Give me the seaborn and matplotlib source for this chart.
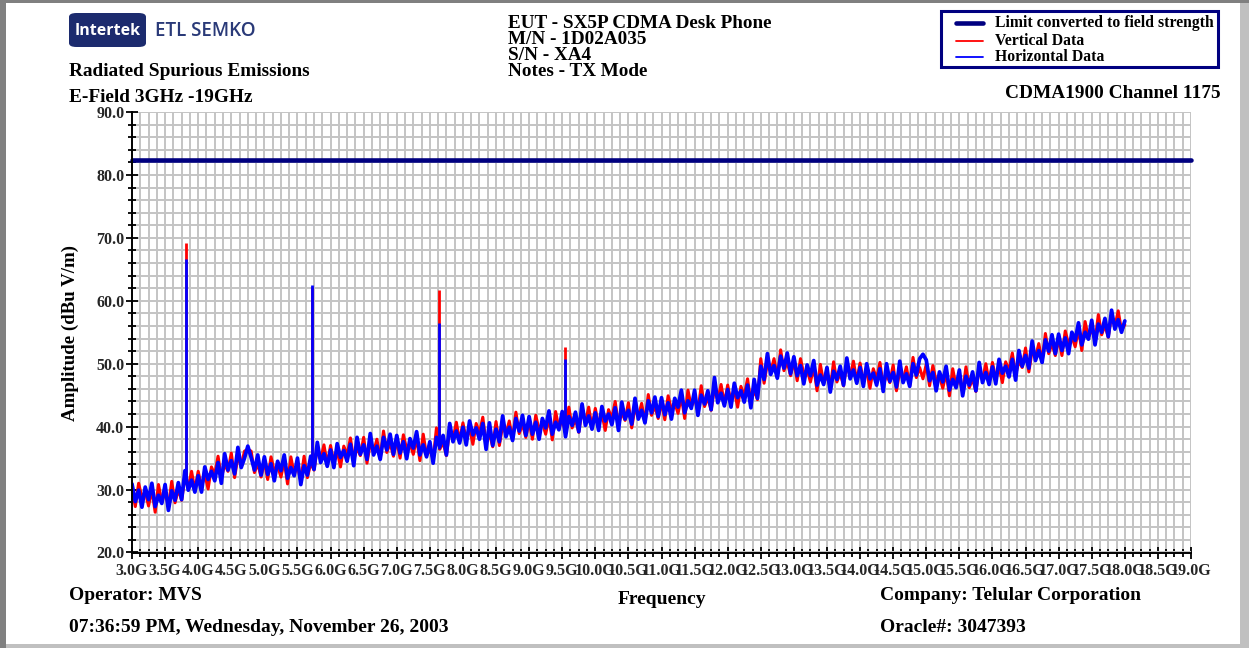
import numpy as np
import pandas as pd
import seaborn as sns
import matplotlib
matplotlib.use("Agg")
import matplotlib.pyplot as plt
from matplotlib.lines import Line2D
from matplotlib.patches import Rectangle, FancyBboxPatch
from matplotlib.ticker import MultipleLocator, FuncFormatter

# ---------------- data ----------------
# sweep 3.0 .. 18.0 GHz, samples every 0.05 GHz (one row = 1 GHz)
horizontal_data = [
    30.9, 28.1, 29.9, 27.2, 30.4, 28.4, 31.0, 27.3, 29.1, 27.8, 30.8, 26.7, 29.8, 28.3, 31.1, 28.4, 33.0, 29.9, 31.5, 29.6,
    32.2, 29.6, 33.6, 31.6, 32.9, 31.4, 34.3, 31.0, 35.7, 33.1, 34.6, 32.5, 36.7, 33.5, 35.0, 36.9, 35.1, 33.1, 35.5, 32.3,
    35.2, 32.4, 34.1, 31.4, 34.5, 33.0, 35.5, 31.8, 33.5, 32.2, 35.0, 30.8, 33.8, 32.3, 35.3, 33.2, 37.5, 34.3, 35.7, 33.7,
    36.3, 33.5, 37.3, 35.1, 36.2, 34.5, 37.2, 33.8, 38.3, 35.6, 37.1, 34.8, 38.9, 35.5, 36.9, 34.8, 38.3, 36.3, 38.8, 35.6,
    38.6, 35.8, 37.6, 34.9, 38.1, 36.6, 39.2, 35.5, 37.1, 35.2, 37.6, 34.2, 38.3, 36.8, 38.6, 35.5, 40.5, 37.6, 39.3, 37.4,
    39.9, 37.1, 40.9, 38.7, 39.8, 38.0, 40.5, 36.4, 40.6, 37.0, 39.6, 37.6, 41.7, 38.4, 39.9, 37.8, 41.3, 39.3, 41.8, 38.6,
    41.6, 38.8, 40.7, 38.0, 41.3, 39.8, 42.5, 38.8, 40.7, 39.5, 42.4, 38.4, 41.6, 40.2, 42.3, 39.2, 43.6, 40.2, 41.7, 39.6,
    42.2, 39.4, 43.2, 40.9, 42.0, 40.3, 43.0, 39.4, 43.9, 41.2, 42.6, 40.4, 44.5, 41.2, 42.6, 40.6, 44.1, 42.2, 44.7, 41.6,
    44.6, 41.9, 43.8, 41.2, 44.5, 43.1, 45.8, 42.2, 44.1, 42.9, 45.8, 41.8, 45.0, 43.6, 45.7, 42.7, 47.8, 43.8, 45.3, 43.3,
    45.9, 43.1, 46.9, 44.6, 45.7, 43.9, 46.6, 43.0, 47.5, 44.5, 49.6, 47.5, 51.6, 48.3, 49.7, 47.7, 51.2, 49.3, 51.7, 48.4,
    51.1, 48.1, 49.7, 46.8, 49.8, 48.1, 50.5, 46.6, 48.2, 46.7, 49.4, 45.5, 48.8, 47.5, 49.6, 46.6, 50.9, 47.6, 49.0, 46.9,
    49.4, 46.4, 50.0, 47.6, 48.5, 46.6, 49.2, 45.6, 50.0, 47.2, 48.6, 46.3, 50.4, 47.0, 48.4, 46.4, 50.0, 48.2, 50.8, 51.5,
    50.6, 47.3, 48.6, 45.7, 48.7, 47.1, 49.6, 45.8, 47.5, 46.2, 49.0, 44.9, 48.0, 46.6, 48.7, 45.7, 50.2, 47.0, 48.6, 46.7,
    49.5, 46.8, 50.7, 48.5, 49.6, 47.9, 50.7, 47.4, 52.1, 49.6, 51.3, 49.3, 53.6, 50.5, 52.1, 50.2, 53.8, 52.0, 54.6, 51.6,
    54.7, 52.1, 54.1, 51.6, 55.0, 53.7, 56.5, 53.0, 55.0, 53.9, 56.9, 53.0, 56.3, 55.0, 57.2, 54.3, 58.5, 55.5, 57.0, 55.0,
    56.8,
]

vertical_data = [
    30.2, 27.3, 31.0, 28.7, 29.7, 27.4, 30.0, 26.4, 30.8, 28.0, 29.6, 27.3, 31.3, 27.9, 30.0, 28.3, 32.0, 30.3, 32.9, 29.9,
    32.9, 30.4, 32.5, 30.1, 33.6, 32.4, 35.3, 31.9, 34.0, 32.9, 35.8, 31.9, 35.2, 33.9, 36.1, 36.4, 36.1, 32.7, 34.1, 32.0,
    34.5, 31.6, 35.2, 32.9, 33.8, 32.0, 34.5, 30.9, 35.2, 32.4, 33.8, 31.4, 35.3, 31.9, 34.2, 33.1, 36.6, 34.7, 37.1, 34.0,
    37.0, 34.3, 36.2, 33.6, 36.9, 35.5, 38.2, 34.7, 36.6, 35.4, 38.3, 34.2, 37.4, 35.9, 38.0, 34.9, 39.3, 35.9, 37.4, 35.3,
    37.9, 35.0, 38.7, 36.4, 37.4, 35.6, 38.2, 34.6, 38.8, 35.4, 36.4, 34.8, 39.8, 36.4, 37.5, 35.4, 39.5, 38.0, 40.7, 37.7,
    40.6, 37.9, 39.8, 37.2, 40.5, 39.0, 41.5, 37.3, 38.9, 36.8, 40.8, 37.0, 40.2, 38.8, 40.9, 37.9, 42.3, 38.9, 40.4, 38.3,
    40.9, 38.0, 41.8, 39.5, 40.6, 38.8, 41.5, 37.9, 42.4, 39.7, 41.2, 39.0, 43.1, 39.8, 41.2, 39.1, 42.6, 40.6, 43.1, 39.9,
    42.9, 40.2, 42.1, 39.4, 42.7, 41.3, 44.0, 40.3, 42.2, 41.0, 43.8, 39.8, 43.0, 41.6, 43.7, 40.7, 45.1, 41.8, 43.3, 41.3,
    43.9, 41.1, 44.9, 42.7, 43.8, 42.1, 44.8, 41.3, 45.8, 43.1, 44.6, 42.4, 46.5, 43.2, 44.6, 42.6, 46.1, 44.2, 46.7, 43.6,
    46.6, 43.9, 45.8, 43.1, 46.4, 44.9, 47.6, 43.9, 45.8, 44.3, 50.8, 46.9, 50.1, 48.7, 50.8, 47.8, 52.2, 48.9, 50.3, 48.1,
    50.4, 47.3, 50.8, 48.3, 49.1, 47.1, 49.5, 45.7, 49.9, 46.9, 48.2, 46.1, 50.3, 47.1, 48.5, 46.5, 49.9, 48.0, 50.4, 47.2,
    50.1, 47.2, 48.9, 46.1, 49.2, 47.6, 50.2, 46.5, 48.3, 47.0, 49.8, 45.7, 48.9, 47.4, 49.5, 46.5, 51.0, 47.8, 49.4, 47.6,
    49.9, 46.5, 49.7, 47.2, 48.0, 46.1, 48.6, 44.9, 49.2, 46.4, 47.8, 45.5, 49.5, 46.2, 47.6, 45.6, 49.2, 47.4, 50.0, 47.0,
    50.2, 47.6, 49.6, 47.0, 50.3, 48.9, 51.7, 48.3, 50.4, 49.4, 52.5, 48.7, 52.1, 50.9, 53.2, 50.3, 54.8, 51.6, 53.2, 51.3,
    54.0, 51.3, 55.2, 53.1, 54.3, 52.7, 55.5, 52.1, 56.7, 54.1, 55.7, 53.6, 57.8, 54.6, 56.1, 54.2, 57.8, 55.9, 58.4, 55.3,
    56.2,
]

sweep_start_ghz = 3.0
sweep_stop_ghz = 18.0

# harmonic spikes of the TX carrier
spike_freq = [3.8175, 5.726, 7.635, 9.544]
spike_base = [31.0, 34.5, 36.5, 40.6]
spike_vertical = [69.2, 62.2, 61.7, 52.7]
spike_horizontal = [66.6, 62.5, 56.4, 50.7]

limit_freq = [3.0, 19.0]
limit_value = [82.3, 82.3]

series_names = ["Limit converted to field strength", "Vertical Data", "Horizontal Data"]

# ---------------- styling ----------------
sns.set_theme(style="white")
plt.rcParams["font.family"] = ["Liberation Serif", "DejaVu Serif"]
plt.rcParams["font.weight"] = "bold"

W, H = 1249, 648
fig = plt.figure(figsize=(W / 100, H / 100), dpi=100)
fig.patch.set_facecolor("white")

def fx(x):
    return x / W

def fy(y):
    return 1 - y / H

ax_l, ax_r, ax_t, ax_b = 132, 1191, 112, 552.5
ax = fig.add_axes([fx(ax_l), fy(ax_b), (ax_r - ax_l) / W, (ax_b - ax_t) / H])
ax.set_facecolor("white")

NAVY = "#000080"
RED = "#ff0000"
BLUE = "#0000ff"
series_colors = [NAVY, RED, BLUE]
series_lw = [3.3, 1.3, 1.3]

df_v = pd.DataFrame({"freq": np.linspace(sweep_start_ghz, sweep_stop_ghz, len(vertical_data)),
                     "amp": vertical_data})
df_h = pd.DataFrame({"freq": np.linspace(sweep_start_ghz, sweep_stop_ghz, len(horizontal_data)),
                     "amp": horizontal_data})
df_lim = pd.DataFrame({"freq": limit_freq, "amp": limit_value})

sns.lineplot(data=df_lim, x="freq", y="amp", color=NAVY, lw=3.3, ax=ax,
             sort=False, estimator=None, zorder=3, clip_on=False)
sns.lineplot(data=df_v, x="freq", y="amp", color=RED, lw=2.2, ax=ax,
             sort=False, estimator=None, zorder=4)
ax.vlines(spike_freq, spike_base, spike_vertical, color=RED, lw=2.0, zorder=4)
sns.lineplot(data=df_h, x="freq", y="amp", color=BLUE, lw=2.7, ax=ax,
             sort=False, estimator=None, zorder=5)
ax.vlines(spike_freq, spike_base, spike_horizontal, color=BLUE, lw=2.0, zorder=5)

ax.set_xlim(3.0, 19.0)
ax.set_ylim(20.0, 90.0)
ax.xaxis.set_major_locator(MultipleLocator(0.5))
ax.xaxis.set_minor_locator(MultipleLocator(0.125))
ax.yaxis.set_major_locator(MultipleLocator(10))
ax.yaxis.set_minor_locator(MultipleLocator(2))
ax.xaxis.set_major_formatter(FuncFormatter(lambda v, p: f"{v:.1f}G"))
ax.yaxis.set_major_formatter(FuncFormatter(lambda v, p: f"{v:.1f}"))
ax.grid(which="both", color="#c4c4c4", lw=1.4)
ax.set_axisbelow(True)
ax.set_xlabel("")
ax.set_ylabel("")
for s in ["top", "right"]:
    ax.spines[s].set_visible(False)
for s in ["left", "bottom"]:
    ax.spines[s].set_color("black")
    ax.spines[s].set_linewidth(1.4)
    ax.spines[s].set_zorder(6)
ax.tick_params(which="major", direction="inout", length=9, width=1.3, color="black",
               labelsize=11.5)
ax.tick_params(axis="x", which="major", pad=3)
ax.tick_params(axis="y", which="major", pad=1)
ax.tick_params(which="minor", direction="inout", length=6, width=1.3, color="black")
ax.tick_params(axis="both", which="both", bottom=True, left=True)
for lab in ax.get_xticklabels() + ax.get_yticklabels():
    lab.set_fontweight("bold")

# ---------------- texts ----------------
def ftext(x, y, s, size=14, ha="left", va="center", **kw):
    fig.text(fx(x), fy(y), s, fontsize=size, ha=ha, va=va, fontweight="bold",
             color="black", **kw)

ftext(69, 72, "Radiated Spurious Emissions", 13.9)
ftext(69, 97, "E-Field 3GHz -19GHz", 13.9)
ftext(508, 23, "EUT - SX5P CDMA Desk Phone", 13.8)
ftext(508, 40, "M/N - 1D02A035", 13.8)
ftext(508, 56, "S/N - XA4", 13.8)
ftext(508, 72, "Notes - TX Mode", 13.8)
ftext(1221, 94, "CDMA1900 Channel 1175", 13.9, ha="right")
ftext(69, 596, "Operator: MVS", 14)
ftext(662, 600, "Frequency", 14, ha="center")
ftext(880, 595, "Company: Telular Corporation", 14)
ftext(69, 628, "07:36:59 PM, Wednesday, November 26, 2003", 14)
ftext(880, 628, "Oracle#: 3047393", 14)
ftext(70, 333, "Amplitude (dBu V/m)", 13.6, ha="center", rotation=90)

# logo
logo = FancyBboxPatch((fx(69), fy(47)), (146 - 69) / W, (47 - 13) / H,
                      boxstyle="round,pad=0,rounding_size=0.006",
                      transform=fig.transFigure, facecolor="#1c2b6e",
                      edgecolor="none")
fig.add_artist(logo)
fig.text(fx(107.5), fy(31), "Intertek", fontsize=11.5, ha="center", va="center",
         color="white", family=["Open Sans", "DejaVu Sans"], fontweight="bold")
fig.text(fx(155), fy(31), "ETL SEMKO", fontsize=13.5, ha="left", va="center",
         color="#2a3a78", family=["Open Sans", "DejaVu Sans"], fontweight="semibold")

# legend (drawn as a boxed key)
fig.add_artist(Rectangle((fx(941), fy(67)), (1218 - 941) / W, (67 - 11) / H,
                         transform=fig.transFigure, facecolor="white",
                         edgecolor=NAVY, lw=2.2, zorder=10))
legend_rows_y = [23, 41, 57]
for name, col, lw, yy in zip(series_names, series_colors, series_lw, legend_rows_y):
    fig.add_artist(Line2D([fx(956), fx(983)], [fy(yy), fy(yy)], color=col, lw=lw,
                          transform=fig.transFigure, zorder=11))
    fig.text(fx(995), fy(yy), name, fontsize=11.3, ha="left", va="center",
             fontweight="bold", color="black", zorder=11)

# window border
fig.add_artist(Rectangle((0, 0), fx(6), 1, transform=fig.transFigure,
                         facecolor="#808080", edgecolor="none"))
fig.add_artist(Rectangle((0, fy(3)), 1, 3 / H, transform=fig.transFigure,
                         facecolor="#808080", edgecolor="none"))
fig.add_artist(Rectangle((fx(1240), 0), 9 / W, fy(3), transform=fig.transFigure,
                         facecolor="#c0c0c0", edgecolor="none"))
fig.add_artist(Rectangle((fx(6), 0), 1, 4 / H, transform=fig.transFigure,
                         facecolor="#c0c0c0", edgecolor="none"))

fig.savefig("out.png", dpi=100)
